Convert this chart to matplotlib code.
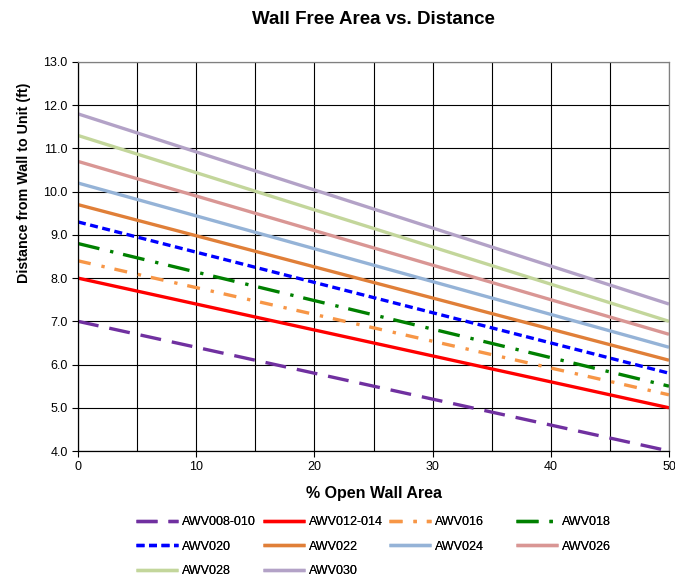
import matplotlib
matplotlib.use("Agg")
import matplotlib.pyplot as plt
from matplotlib import font_manager

names = {f.name for f in font_manager.fontManager.ttflist}
base = "Liberation Sans" if "Liberation Sans" in names else "DejaVu Sans"
plt.rcParams['font.family'] = [base, 'DejaVu Sans']

x_vals = [0, 50]
series_names = ["AWV008-010", "AWV012-014", "AWV016", "AWV018", "AWV020",
                "AWV022", "AWV024", "AWV026", "AWV028", "AWV030"]
start_vals = [7.0, 8.0, 8.4, 8.8, 9.3, 9.7, 10.2, 10.7, 11.3, 11.8]
end_vals = [4.0, 5.0, 5.3, 5.5, 5.8, 6.1, 6.4, 6.7, 7.0, 7.4]

colors = ["#7030A0", "#FF0000", "#F79646", "#008000", "#0000FF",
          "#E07F38", "#95B3D7", "#D99694", "#C3D69B", "#B3A2C7"]
styles = [(0, (6.3, 3.3)), "-", (0, (3.9, 3.3, 1.0, 3.0)), (0, (6.6, 3.3, 1.0, 3.0)),
          (0, (2.4, 1.35)), "-", "-", "-", "-", "-"]

xticks = [0, 10, 20, 30, 40, 50]
yticks = [4.0, 5.0, 6.0, 7.0, 8.0, 9.0, 10.0, 11.0, 12.0, 13.0]

fig = plt.figure(figsize=(6.75, 5.77), dpi=100)
ax = fig.add_axes([78/675, 1-451/577, (669-78)/675, (451-62)/577])

handles = []
for name, s, e, c, ls in zip(series_names, start_vals, end_vals, colors, styles):
    h, = ax.plot(x_vals, [s, e], color=c, linestyle=ls, linewidth=2.4, label=name,
                 solid_capstyle='butt', dash_capstyle='butt')
    handles.append(h)

ax.set_xlim(0, 50)
ax.set_ylim(4, 13)
ax.set_xticks(xticks)
ax.set_xticklabels([str(t) for t in xticks])
ax.set_yticks(yticks)
ax.set_yticklabels([f"{t:.1f}" for t in yticks])
ax.set_xticks(list(range(0, 51, 5)), minor=True)
ax.grid(True, which='both', color='black', linewidth=0.8)
ax.set_axisbelow(True)
ax.tick_params(axis='both', which='major', labelsize=9, direction='out', length=4, width=0.8)
ax.tick_params(axis='x', which='minor', length=0)
for sp in ax.spines.values():
    sp.set_color('#808080')
    sp.set_linewidth(0.9)
ax.spines['left'].set_color('black')
ax.spines['bottom'].set_color('black')

ax.set_xlabel("% Open Wall Area", fontsize=11.5, fontweight='bold', labelpad=9)
ax.set_ylabel("Distance from Wall to Unit (ft)", fontsize=10.3, fontweight='bold', labelpad=9)
ax.yaxis.set_label_coords(-0.08, (451 - 183) / 389)
fig.text((78 + 669) / 2 / 675, 1 - 20/577, "Wall Free Area vs. Distance",
         ha='center', va='center', fontsize=13.5, fontweight='bold')

col_x = [136, 263, 389, 516]
for ci, cx in enumerate(col_x):
    idx = [i for i in range(ci, len(handles), 4)]
    leg = fig.legend([handles[i] for i in idx], [series_names[i] for i in idx],
                     loc='upper left', bbox_to_anchor=(cx/675, 1 - 516/577), ncol=1,
                     frameon=False, fontsize=9, handlelength=3.36, handletextpad=0.3,
                     labelspacing=1.0, borderaxespad=0, borderpad=0)
    fig.add_artist(leg)

fig.savefig("out.png", dpi=100)
